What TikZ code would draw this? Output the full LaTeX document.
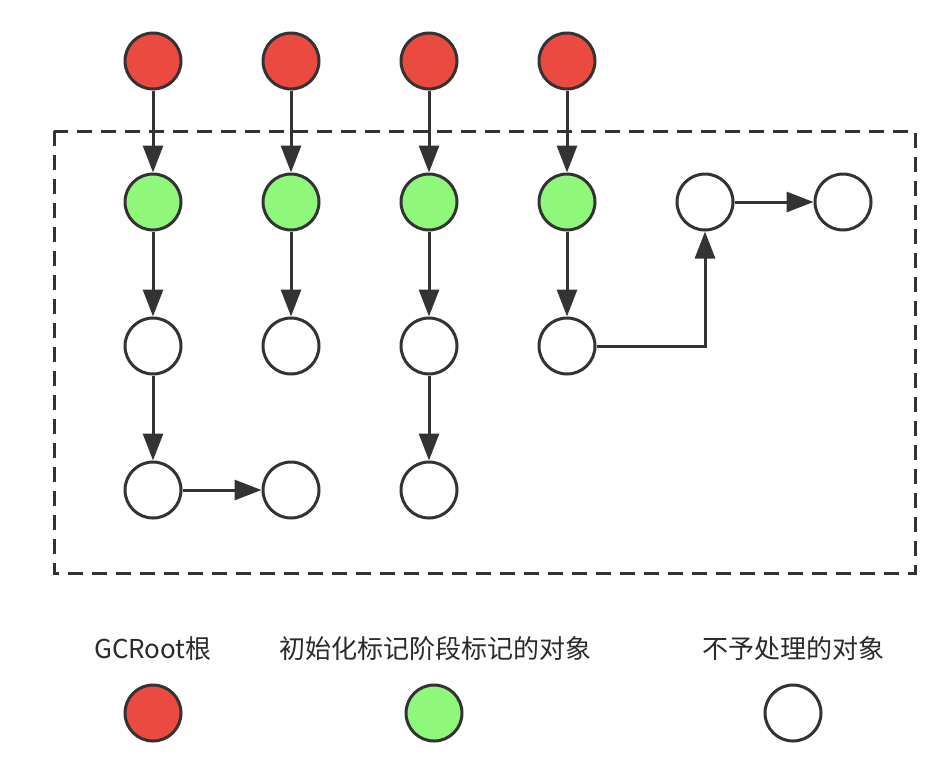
\documentclass[tikz,border=0pt]{standalone}
\usepackage{fontspec}
\setmainfont{Noto Sans CJK SC}
\usetikzlibrary{arrows.meta}
\definecolor{rootred}{HTML}{EA4A40}
\definecolor{markgreen}{HTML}{8FF77A}
\definecolor{edge}{HTML}{333333}
\tikzset{
  obj/.style={circle, draw=edge, line width=3pt, minimum size=56pt, inner sep=0pt, fill=white},
  rootobj/.style={obj, fill=rootred},
  markobj/.style={obj, fill=markgreen},
  link/.style={draw=edge, line width=3pt, -{Triangle[length=27pt,width=20pt]}},
  frame/.style={draw=edge, line width=3pt, dash pattern=on 15pt off 9pt},
  lbl/.style={font=\fontsize{26}{31}\selectfont, text=edge!85!black}
}
\begin{document}
\begin{tikzpicture}[x=1pt,y=-1pt]
\useasboundingbox (0,0) rectangle (952,772);
\draw[frame] (54,131) rectangle (915,573);
% roots
\node[rootobj] (r1) at (153,61) {};
\node[rootobj] (r2) at (291,61) {};
\node[rootobj] (r3) at (429,61) {};
\node[rootobj] (r4) at (567,61) {};
% marked
\node[markobj] (g1) at (153,202) {};
\node[markobj] (g2) at (291,202) {};
\node[markobj] (g3) at (429,202) {};
\node[markobj] (g4) at (567,202) {};
\node[obj] (w5) at (705,202) {};
\node[obj] (w6) at (843,202) {};
% row 3
\node[obj] (a1) at (153,346) {};
\node[obj] (a2) at (291,346) {};
\node[obj] (a3) at (429,346) {};
\node[obj] (a4) at (567,346) {};
% row 4
\node[obj] (b1) at (153,490) {};
\node[obj] (b2) at (291,490) {};
\node[obj] (b3) at (429,490) {};
% edges
\draw[link] (r1) -- (g1);
\draw[link] (r2) -- (g2);
\draw[link] (r3) -- (g3);
\draw[link] (r4) -- (g4);
\draw[link] (g1) -- (a1);
\draw[link] (g2) -- (a2);
\draw[link] (g3) -- (a3);
\draw[link] (g4) -- (a4);
\draw[link] (a1) -- (b1);
\draw[link] (a3) -- (b3);
\draw[link] (b1) -- (b2);
\draw[link] (w5) -- (w6);
\draw[link] (a4.east) -| (w5.south);
% legend
\node[lbl] (t1) at (153,649) {GCRoot根};
\node[lbl] (t2) at (435,649) {初始化标记阶段标记的对象};
\node[lbl] (t3) at (793,649) {不予处理的对象};
\node[rootobj] (l1) at (153,713) {};
\node[markobj] (l2) at (434,713) {};
\node[obj] (l3) at (793,713) {};
\end{tikzpicture}
\end{document}
